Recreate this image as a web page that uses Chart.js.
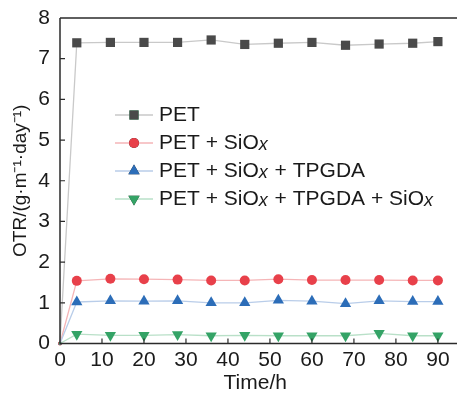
<!DOCTYPE html>
<html><head><meta charset="utf-8">
<script src="https://cdn.jsdelivr.net/npm/chart.js@4"></script>
<style>html,body{margin:0;padding:0;background:#fff}#wrap{width:457px;height:394px}</style>
</head><body><div id="wrap"><canvas id="c" width="457" height="394"></canvas></div>
<script>
const times = [0, 4, 12, 20, 28, 36, 44, 52, 60, 68, 76, 84, 90];
const pet = [0, 7.39, 7.40, 7.40, 7.40, 7.46, 7.35, 7.38, 7.40, 7.33, 7.36, 7.38, 7.42];
const petSiox = [0, 1.54, 1.59, 1.58, 1.57, 1.55, 1.55, 1.58, 1.56, 1.56, 1.56, 1.55, 1.55];
const petSioxTpgda = [0, 1.02, 1.05, 1.04, 1.05, 1.00, 1.00, 1.06, 1.04, 0.98, 1.05, 1.03, 1.03];
const petSioxTpgdaSiox = [0, 0.23, 0.20, 0.20, 0.22, 0.19, 0.20, 0.19, 0.19, 0.19, 0.25, 0.19, 0.19];
const yTicks = [0, 1, 2, 3, 4, 5, 6, 7, 8];
const xTicks = [0, 10, 20, 30, 40, 50, 60, 70, 80, 90];
const legendLabels = [
  [["PET", false]],
  [["PET + SiO", false], ["x", true]],
  [["PET + SiO", false], ["x", true], [" + TPGDA", false]],
  [["PET + SiO", false], ["x", true], [" + TPGDA + SiO", false], ["x", true]]
];

const FONT = '"Liberation Sans", Arial, sans-serif';
const pts = arr => times.map((t, i) => ({x: t, y: arr[i]}));
const radiusFn = base => ctx => ctx.dataIndex === 0 ? 2 : base;

const series = [
  {data: pts(pet), line: '#c9c9c9', mark: '#4a4a4a', style: 'rect', r: 6.5, rot: 0},
  {data: pts(petSiox), line: '#f5b5b7', mark: '#e8404a', style: 'circle', r: 5, rot: 0},
  {data: pts(petSioxTpgda), line: '#b9cde9', mark: '#2c6db8', style: 'triangle', r: 6.5, rot: 0},
  {data: pts(petSioxTpgdaSiox), line: '#b9e0c8', mark: '#34a366', style: 'triangle', r: 6.5, rot: 180}
];

const framePlugin = {
  id: 'frame',
  afterDraw(chart) {
    const ctx = chart.ctx, a = chart.chartArea;
    const xs = chart.scales.x, ys = chart.scales.y;
    const right = chart.width;
    ctx.save();
    ctx.strokeStyle = '#2b2b2b';
    ctx.lineWidth = 1.5;
    ctx.beginPath();
    ctx.moveTo(a.left, a.top); ctx.lineTo(right, a.top);
    ctx.moveTo(a.left, a.top); ctx.lineTo(a.left, a.bottom);
    ctx.moveTo(a.left, a.bottom); ctx.lineTo(right, a.bottom);
    ctx.stroke();
    ctx.lineWidth = 1.2;
    ctx.beginPath();
    xTicks.forEach(v => { const p = xs.getPixelForValue(v); if (v !== 0) { ctx.moveTo(p, a.bottom); ctx.lineTo(p, a.bottom - 5); } });
    yTicks.forEach(v => { const p = ys.getPixelForValue(v); if (v !== 0 && v !== 8) { ctx.moveTo(a.left, p); ctx.lineTo(a.left + 5, p); } });
    ctx.stroke();

    // legend
    const lx = 115, lineLen = 38, tx = 159, rowY = [115, 143, 171, 199];
    ctx.textBaseline = 'middle';
    series.forEach((s, i) => {
      const y = rowY[i];
      ctx.strokeStyle = s.line; ctx.lineWidth = 1.5;
      ctx.beginPath(); ctx.moveTo(lx, y); ctx.lineTo(lx + lineLen, y); ctx.stroke();
      Chart.helpers.drawPoint(ctx, {pointStyle: s.style, radius: s.r, rotation: s.rot, borderWidth: 0}, lx + lineLen / 2, y);
      ctx.fillStyle = s.mark; ctx.fill();
      let x = tx;
      ctx.fillStyle = '#1a1a1a';
      legendLabels[i].forEach(([txt, it]) => {
        ctx.font = it ? 'italic 18px ' + FONT : '21px ' + FONT;
        ctx.fillText(txt, x, y + (it ? 2 : 0));
        x += ctx.measureText(txt).width + (it ? 1 : 0);
      });
    });
    ctx.restore();
  }
};

new Chart(document.getElementById('c'), {
  type: 'line',
  data: {
    datasets: series.map((s, i) => ({
      label: 'S' + i,
      data: s.data,
      borderColor: s.line,
      borderWidth: 1.3,
      backgroundColor: s.mark,
      pointBackgroundColor: s.mark,
      pointBorderWidth: 0,
      pointStyle: s.style,
      pointRotation: s.rot,
      pointRadius: radiusFn(s.r),
      tension: 0,
      fill: false,
      clip: false,
      order: 3 - i
    }))
  },
  options: {
    responsive: false,
    animation: false,
    events: [],
    layout: {padding: {top: 18, right: 0, left: 0, bottom: 0}},
    plugins: {legend: {display: false}, tooltip: {enabled: false}},
    scales: {
      x: {
        type: 'linear', min: 0, max: 93,
        afterBuildTicks: sc => { sc.ticks = xTicks.map(v => ({value: v})); },
        afterFit: sc => { sc.height = 50.5; sc.paddingLeft = 0; sc.paddingRight = 0; },
        grid: {display: false, drawTicks: false},
        border: {display: false},
        ticks: {padding: 4, color: '#1a1a1a', font: {family: FONT, size: 21}, maxRotation: 0},
        title: {display: true, text: 'Time/h', color: '#1a1a1a', font: {family: FONT, size: 21, lineHeight: 1}, padding: {top: 0, bottom: 0}}
      },
      y: {
        type: 'linear', min: 0, max: 8,
        afterBuildTicks: sc => { sc.ticks = yTicks.map(v => ({value: v})); },
        afterFit: sc => { sc.width = 60; sc.paddingTop = 0; sc.paddingBottom = 0; },
        grid: {display: false, drawTicks: false},
        border: {display: false},
        ticks: {padding: 10, color: '#1a1a1a', font: {family: FONT, size: 21}},
        title: {display: true, text: 'OTR/(g·m⁻¹·day⁻¹)', color: '#1a1a1a', font: {family: FONT, size: 19}, padding: {top: 9, bottom: 0}}
      }
    }
  },
  plugins: [framePlugin]
});
</script></body></html>
